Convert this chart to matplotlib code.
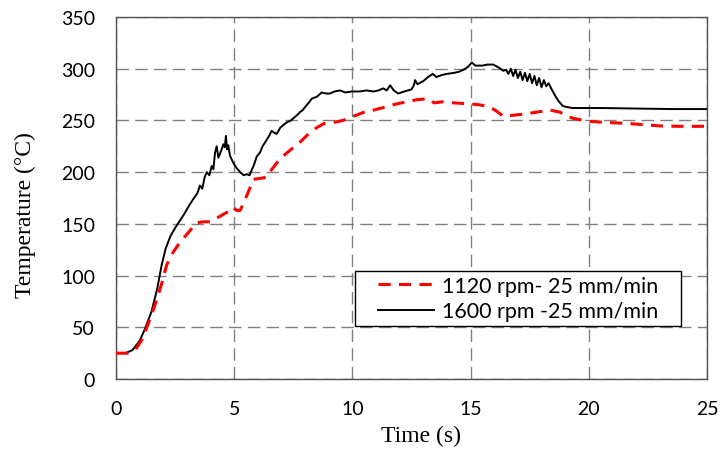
import numpy as np
import matplotlib
matplotlib.use("Agg")
import matplotlib.pyplot as plt

# thermocouple readings, 1600 rpm - 25 mm/min
time_1600 = [0, 0.4, 0.7, 1.0, 1.2, 1.5, 1.75, 1.93, 2.1, 2.3, 2.5, 2.7, 2.9, 3.1, 3.3,
             3.45, 3.55, 3.65, 3.75, 3.84, 3.95, 4.05, 4.12, 4.19, 4.26, 4.33, 4.4, 4.47,
             4.54, 4.6, 4.65, 4.7, 4.75, 4.82, 4.9, 4.96, 5.1, 5.25, 5.4, 5.53, 5.65, 5.74,
             5.82, 5.88, 5.95, 6.09, 6.2, 6.37, 6.5, 6.58, 6.7, 6.8, 6.95, 7.1, 7.22, 7.4,
             7.55, 7.7, 7.78, 7.9, 8.0, 8.15, 8.28, 8.5, 8.7, 8.9, 9.05, 9.25, 9.48, 9.7,
             9.97, 10.3, 10.6, 10.9, 11.1, 11.3, 11.45, 11.6, 11.75, 11.94, 12.2, 12.5,
             12.6, 12.65, 12.75, 13.0, 13.2, 13.4, 13.55, 13.8, 14.0, 14.3, 14.5, 14.7,
             14.9, 15.05, 15.2, 15.5, 15.7, 15.96, 16.2, 16.38, 16.5, 16.6, 16.7, 16.8,
             16.9, 17.0, 17.1, 17.2, 17.3, 17.4, 17.5, 17.6, 17.7, 17.8, 17.9, 18.0, 18.1,
             18.2, 18.3, 18.43, 18.6, 18.71, 18.9, 19.06, 19.3, 19.63, 20.5, 22.0, 23.5, 25.0]
temp_1600 = [25, 25, 28, 37, 47, 65, 88, 110, 126, 138, 146, 153, 160, 168, 175,
             180, 187, 184, 195, 200, 197, 206, 203, 219, 225, 214, 218, 222,
             227, 224, 235, 222, 226, 216, 212, 209, 204, 200, 197, 198, 197, 202,
             206, 210, 215, 219, 225, 231, 236, 240, 238, 237, 243, 246, 248, 250,
             253, 256, 258, 260, 263, 267, 271, 273, 277, 276, 276, 278, 279, 277,
             278, 278, 279, 278, 279, 281, 279, 284, 279, 276, 278, 280,
             284, 289, 285, 288, 292, 295, 292, 294, 295, 296, 297, 299,
             302, 306, 303, 303, 304, 304, 301, 298, 299, 295, 300, 293,
             299, 291, 297, 289, 296, 288, 295, 286, 293, 284, 291, 282, 289,
             283, 286, 280, 273, 269, 264, 263, 262, 262, 262, 261.5, 261, 261]

# thermocouple readings, 1120 rpm - 25 mm/min
time_1120 = [0, 0.5, 0.87, 1.1, 1.44, 1.7, 1.93, 2.14, 2.4, 2.7, 3.0, 3.41, 3.7, 3.98,
             4.3, 4.68, 4.96, 5.1, 5.25, 5.4, 5.6, 5.81, 6.1, 6.37, 6.6, 6.94, 7.3, 7.78,
             8.1, 8.49, 8.8, 9.19, 9.6, 10.04, 10.5, 10.9, 11.4, 11.87, 12.3, 12.72, 13.2,
             13.35, 13.45, 13.8, 14.27, 14.97, 15.4, 15.8, 16.1, 16.38, 16.8, 17.2, 17.8,
             18.36, 18.78, 19.1, 19.34, 20.05, 20.8, 21.7, 22.5, 23.15, 24.0, 25.0]
temp_1120 = [25, 25, 30, 38, 58, 75, 92, 110, 122, 132, 140, 151, 152, 152,
             156, 161, 166, 163, 163, 170, 181, 193, 194, 195, 203, 213, 220, 229,
             236, 243, 247, 248, 250, 254, 258, 260, 263, 266, 268, 270, 271,
             269, 267, 268, 267, 266, 265, 263, 259, 254, 255, 256, 258,
             260, 258, 254, 252, 249, 248, 247, 245.5, 244.5, 244.3, 244.3]

label_1120 = "1120 rpm- 25 mm/min"
label_1600 = "1600 rpm -25 mm/min"

fig = plt.figure(figsize=(7.22, 4.52), dpi=100)
ax = fig.add_axes([116 / 722, 72 / 452, 591 / 722, 362 / 452])

black, = ax.plot(time_1600, temp_1600, color="black", lw=1.4, zorder=3)
red, = ax.plot(time_1120, temp_1120, color="#ff0000", lw=2.2, zorder=4,
               linestyle=(0, (4, 2.7)))

ax.set_xlim(0, 25)
ax.set_ylim(0, 350)
ax.set_xticks(np.arange(0, 26, 5))
ax.set_yticks(np.arange(0, 351, 50))

ax.grid(True, color="#808080", lw=1.0, linestyle=(0, (9, 4.5)))
ax.set_axisbelow(True)
for s in ax.spines.values():
    s.set_color("#505050")
    s.set_linewidth(1.0)

ax.tick_params(length=0, labelsize=14, pad=15)
for lbl in ax.get_xticklabels() + ax.get_yticklabels():
    lbl.set_family("Lato")

ax.set_xlabel("Time (s)", family="Liberation Serif", fontsize=17)
ax.set_ylabel("Temperature (°C)", family="Liberation Serif", fontsize=17)
ax.xaxis.set_label_coords(0.516, -0.155)
ax.yaxis.set_label_coords(-0.154, 0.455)
ax.xaxis.label.set_va("center")
ax.yaxis.label.set_va("center")

# legend box spans a fixed width, entries centred inside it
leg = ax.legend([red, black], [label_1120, label_1600], loc="upper left",
                bbox_to_anchor=(0.404, 0.144, 0.552, 0.154), mode="expand",
                alignment="center", borderaxespad=0, fancybox=False,
                edgecolor="black", framealpha=1, prop={"family": "Lato", "size": 15.5},
                handlelength=2.6, handletextpad=0.35, labelspacing=0.25,
                borderpad=0.22)
leg._legend_handle_box.mode = "fixed"
leg.get_frame().set_linewidth(1.0)

fig.savefig("out.png", dpi=100)
